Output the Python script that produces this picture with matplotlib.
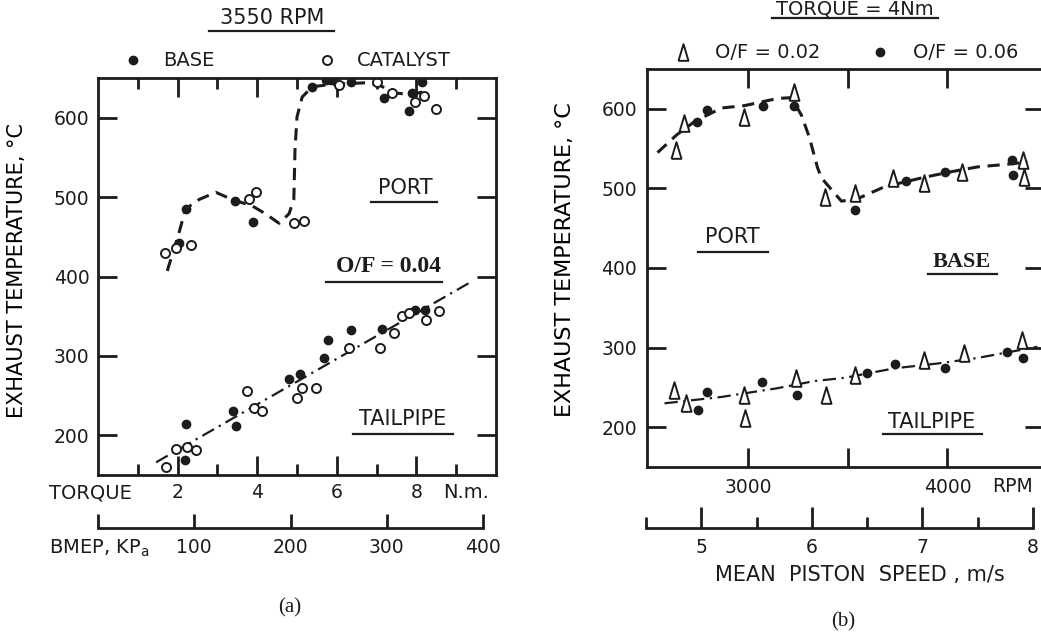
import matplotlib
matplotlib.use('Agg')
import matplotlib.pyplot as plt
from matplotlib.lines import Line2D

W, H = 1041, 635
INK = '#1c1c1c'
SANS = 'DejaVu Sans'
SERIF = 'Liberation Serif'

plt.rcParams['font.family'] = SANS
plt.rcParams['text.color'] = INK
plt.rcParams['axes.edgecolor'] = INK

# ---- panel (a): 3550 RPM, temperature vs torque ----
port_base_torque = [2.04, 2.2, 3.44, 3.9, 5.38, 5.73, 5.85, 6.36, 7.19, 7.81, 7.89, 8.14]
port_base_temp = [442, 485, 495, 469, 639, 648, 647, 645, 625, 608, 631, 645]
port_cat_torque = [1.68, 1.95, 2.33, 3.79, 3.96, 4.92, 5.18, 6.06, 7.0, 7.39, 7.96, 8.19, 8.49]
port_cat_temp = [430, 436, 440, 497, 506, 468, 470, 641, 645, 631, 620, 627, 611]
port_curve_torque = [1.74, 2.04, 2.2, 2.54, 2.96, 3.37, 3.87, 4.21, 4.55, 4.8, 4.92,
                     4.95, 5.0, 5.13, 5.38, 5.88, 6.73, 7.06, 7.49, 7.89, 8.19]
port_curve_temp = [407, 456, 485, 497, 506, 497, 489, 479, 467, 479, 497,
                   560, 601, 626, 639, 642, 644, 641, 631, 629, 633]

tail_base_torque = [2.19, 2.21, 3.39, 3.47, 4.8, 5.08, 5.68, 5.78, 6.36, 7.14, 7.96, 8.22]
tail_base_temp = [169, 214, 231, 212, 271, 277, 297, 320, 332, 334, 358, 358]
tail_cat_torque = [1.71, 1.96, 2.24, 2.46, 3.74, 3.92, 4.12, 5.0, 5.13, 5.48, 6.31,
                   7.09, 7.44, 7.64, 7.81, 8.24, 8.57]
tail_cat_temp = [160, 183, 185, 181, 256, 235, 230, 247, 260, 259, 310,
                 310, 329, 350, 354, 345, 357]
tail_fit_torque = [1.46, 9.4]
tail_fit_temp = [166, 394]

# ---- panel (b): torque 4 Nm, temperature vs engine speed ----
port_of02_rpm = [2638, 2678, 2975, 3231, 3382, 3533, 3724, 3884, 4075, 4377, 4387]
port_of02_temp = [548, 582, 590, 621, 489, 494, 513, 507, 521, 536, 514]
port_of06_rpm = [2739, 2794, 3075, 3231, 3533, 3794, 3985, 4322, 4327]
port_of06_temp = [584, 599, 604, 603, 473, 509, 521, 536, 517]
port_line_rpm = [2543, 2638, 2729, 2864, 2980, 3146, 3216, 3266, 3306, 3347, 3367,
                 3467, 3548, 3683, 3884, 4020, 4151, 4286, 4402]
port_line_temp = [545, 567, 584, 601, 604, 613, 614, 592, 564, 526, 513,
                  484, 487, 502, 514, 521, 527, 530, 533]

tail_of02_rpm = [2628, 2688, 2980, 2975, 3241, 3392, 3533, 3884, 4085, 4372]
tail_of02_temp = [247, 230, 211, 240, 262, 240, 265, 284, 293, 309]
tail_of06_rpm = [2744, 2789, 3070, 3246, 3598, 3734, 3985, 4301, 4377]
tail_of06_temp = [221, 244, 257, 240, 268, 280, 275, 294, 287]
tail_line_rpm = [2578, 2864, 3146, 3332, 3482, 3734, 3950, 4151, 4452]
tail_line_temp = [230, 238, 249, 258, 262, 274, 280, 287, 301]

temp_ticks = [200, 300, 400, 500, 600]
torque_major = [2, 4, 6, 8]
torque_minor = [1, 3, 5, 7, 9]
bmep_ticks = [0, 100, 200, 300, 400]
speed_ticks = [5, 6, 7, 8]
speed_minor = [4.5, 5.5, 6.5, 7.5]
rpm_ticks = [3000, 3500, 4000]


def fx(x):
    return x / W


def fy(y):
    return 1 - y / H


def box(l, t, r, b):
    return [fx(l), fy(b), (r - l) / W, (b - t) / H]


def underline(x0, x1, y):
    fig.add_artist(Line2D([fx(x0), fx(x1)], [fy(y), fy(y)], color=INK, lw=1.6,
                          transform=fig.transFigure))


def label(x, y, s, size=15, ha='center', **kw):
    fig.text(fx(x), fy(y), s, fontsize=size, ha=ha, va='center', color=INK, **kw)


def ticks(a, axis, which='major', length=14, pad=6, **kw):
    a.tick_params(axis=axis, which=which, direction='in', length=length, width=2.0,
                  color=INK, labelcolor=INK, pad=pad, **kw)


tri = [(-0.3, -0.5), (0.3, -0.5), (0.0, 0.5), (-0.3, -0.5)]
dot = dict(ls='none', marker='o', ms=6, color=INK)
ring = dict(ls='none', marker='o', ms=6.5, mfc='white', mec=INK, mew=1.4)
tria = dict(ls='none', marker=tri, ms=12, mfc='white', mec=INK, mew=1.4)

fig = plt.figure(figsize=(W / 100, H / 100), dpi=100)
fig.patch.set_facecolor('white')

# ================= panel (a) =================
ax = fig.add_axes(box(98, 78, 496, 475))
ax.set_xlim(0, 10)
ax.set_ylim(150, 650)
ax.plot(port_curve_torque, port_curve_temp, color=INK, lw=2.2, dashes=(4, 2.5))
ax.plot(tail_fit_torque, tail_fit_temp, color=INK, lw=1.6, dashes=(6, 2.5, 1, 2.5))
ax.plot(port_base_torque, port_base_temp, label='BASE', **dot)
ax.plot(tail_base_torque, tail_base_temp, **dot)
ax.plot(port_cat_torque, port_cat_temp, label='CATALYST', **ring)
ax.plot(tail_cat_torque, tail_cat_temp, **ring)

ax.set_xticks(torque_major)
ax.set_xticklabels([str(v) for v in torque_major])
ax.set_xticks(torque_minor, minor=True)
ax.set_yticks(temp_ticks)
ticks(ax, 'x', 'major', 14, 6, top=True, labelsize=13.5)
ticks(ax, 'x', 'minor', 8, 6, top=True)
ticks(ax, 'y', 'major', 14, 6, right=True, labelsize=13.5)
for sp in ax.spines.values():
    sp.set_linewidth(2.0)
ax.set_ylabel('EXHAUST TEMPERATURE, °C', fontsize=15)
ax.yaxis.set_label_coords(-0.178, 0.516)
ax.legend(loc='center left', bbox_to_anchor=(fx(123), fy(61)), bbox_transform=fig.transFigure,
          ncol=2, frameon=False, fontsize=14, handlelength=1.0, handletextpad=1.05,
          columnspacing=5.3, borderpad=0, borderaxespad=0, numpoints=1)

# BMEP scale below the torque axis
bx = fig.add_axes(box(98, 516, 483, 528))
bx.set_facecolor('none')
bx.set_xlim(0, 400)
bx.set_yticks([])
for s in ('left', 'right', 'top'):
    bx.spines[s].set_visible(False)
bx.spines['bottom'].set_linewidth(2.0)
bx.set_xticks(bmep_ticks)
bx.set_xticklabels([''] + [str(v) for v in bmep_ticks[1:]])
ticks(bx, 'x', 'major', 10, 7, labelsize=13.5)

label(272, 18, '3550 RPM')
underline(209, 334, 31)
label(405, 188, 'PORT')
underline(371, 437, 202)
label(389, 267, 'O/F = 0.04', size=17, family=SERIF, weight='bold')
underline(326, 442, 282)
label(403, 419, 'TAILPIPE')
underline(353, 453, 434)
label(49, 493, 'TORQUE', size=14, ha='left')
label(443, 493, 'N.m.', size=14, ha='left')
label(49, 548, r'BMEP, KP$_{\mathrm{a}}$', size=14, ha='left')
label(290, 608, '(a)', size=15, family=SERIF)

# ================= panel (b) =================
bx2 = fig.add_axes(box(647, 69, 1044, 467))
bx2.set_xlim(2490, 4485)
bx2.set_ylim(150, 650)
bx2.plot(port_line_rpm, port_line_temp, color=INK, lw=2.2, dashes=(4, 2.5))
bx2.plot(tail_line_rpm, tail_line_temp, color=INK, lw=1.6, dashes=(6, 2.5, 1, 2.5))
bx2.plot(port_of02_rpm, port_of02_temp, label='O/F = 0.02', **tria)
bx2.plot(tail_of02_rpm, tail_of02_temp, **tria)
bx2.plot(port_of06_rpm, port_of06_temp, label='O/F = 0.06', **dot)
bx2.plot(tail_of06_rpm, tail_of06_temp, **dot)

bx2.set_xticks(rpm_ticks)
bx2.set_xticklabels(['3000', '', '4000'])
bx2.set_yticks(temp_ticks)
ticks(bx2, 'x', 'major', 14, 8, top=True, labelsize=13.5)
ticks(bx2, 'y', 'major', 14, 7, right=True, labelsize=13.5)
for sp in bx2.spines.values():
    sp.set_linewidth(2.0)
bx2.set_ylabel('EXHAUST TEMPERATURE, °C', fontsize=16)
bx2.yaxis.set_label_coords(-0.181, 0.52)
bx2.legend(loc='center left', bbox_to_anchor=(fx(673), fy(53)), bbox_transform=fig.transFigure,
           ncol=2, frameon=False, fontsize=14, handlelength=1.0, handletextpad=1.15,
           columnspacing=2.6, borderpad=0, borderaxespad=0, numpoints=1)

# mean piston speed scale
sx = fig.add_axes(box(646, 516, 1033, 528))
sx.set_facecolor('none')
sx.set_xlim(4.5, 8)
sx.set_yticks([])
for s in ('left', 'right', 'top'):
    sx.spines[s].set_visible(False)
sx.spines['bottom'].set_linewidth(2.0)
sx.set_xticks(speed_ticks)
sx.set_xticks(speed_minor, minor=True)
ticks(sx, 'x', 'major', 15, 7, labelsize=13.5)
ticks(sx, 'x', 'minor', 8, 7)

label(855, 9, 'TORQUE = 4Nm', size=14)
underline(772, 938, 18)
label(732, 237, 'PORT')
underline(698, 768, 252)
label(962, 262, 'BASE', size=16, family=SERIF, weight='bold')
underline(928, 997, 274)
label(932, 422, 'TAILPIPE')
underline(883, 982, 434)
label(1012, 487, 'RPM', size=13.5)
label(860, 575, 'MEAN  PISTON  SPEED , m/s', size=15)
label(843, 622, '(b)', size=15, family=SERIF)

fig.savefig('out.png', dpi=100, facecolor='white')
